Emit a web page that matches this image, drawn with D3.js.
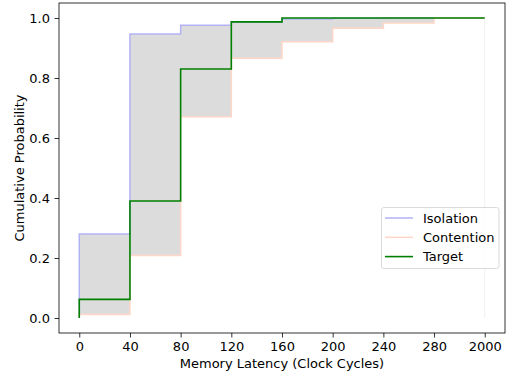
<!DOCTYPE html>
<html>
<head>
<meta charset="utf-8" />
<title>Memory latency CDF</title>
<script src="https://d3js.org/d3.v7.min.js"></script>
<style>
    body { margin: 0; font-family: "DejaVu Sans", sans-serif; }
    .tick text { font-size: 13px; font-family: "DejaVu Sans", sans-serif; fill: #000; }
</style>
</head>
<body>
<svg id="chart" width="507" height="374"></svg>
<script>

// latency buckets (equally spaced on the axis)
var latencyLabels = ["0", "40", "80", "120", "160", "200", "240", "280", "2000"];

// cumulative probability per bucket
var isolation  = [0, 0.28, 0.947, 0.976, 0.986, 0.997, 0.999, 1.0, 1.0];
var contention = [0, 0.012, 0.208, 0.671, 0.866, 0.921, 0.966, 0.983, 1.0];
var target     = [0, 0.062, 0.39, 0.83, 0.987, 1.0, 1.0, 1.0, 1.0];

var yTicks = [0, 0.2, 0.4, 0.6, 0.8, 1.0];

var margin = {top: 3, right: 2, bottom: 41, left: 59},
    width = 507 - margin.left - margin.right,
    height = 374 - margin.top - margin.bottom;

var svg = d3.select("#chart");
var chart = svg.append("g")
    .attr("transform", "translate(" + margin.left + "," + margin.top + ")");

// matplotlib style 5% padding
var n = latencyLabels.length;
var x = d3.scaleLinear()
    .domain([-0.05 * (n - 1), (n - 1) * 1.05])
    .range([0, width]);
var y = d3.scaleLinear()
    .domain([-0.05, 1.05])
    .range([height, 0]);

var idx = d3.range(n);

// grey band between isolation and contention
var area = d3.area()
    .x(function(i){ return x(i); })
    .y0(function(i){ return y(contention[i]); })
    .y1(function(i){ return y(isolation[i]); })
    .curve(d3.curveStepBefore);

chart.append("path")
    .datum(idx)
    .attr("d", area)
    .attr("fill", "#dcdcdc");

// faint edge at the last bucket
chart.append("line")
    .attr("x1", x(n - 1)).attr("x2", x(n - 1))
    .attr("y1", y(1)).attr("y2", y(0))
    .attr("stroke", "#f0f0f0")
    .attr("stroke-width", 1);

var line = function(vals){
    return d3.line()
        .x(function(i){ return x(i); })
        .y(function(i){ return y(vals[i]); })
        .curve(d3.curveStepBefore)(idx);
};

var series = [
    {name: "Isolation", vals: isolation, color: "rgb(178,178,245)", w: 1.5},
    {name: "Contention", vals: contention, color: "rgb(255,214,200)", w: 1.5},
    {name: "Target", vals: target, color: "green", w: 1.6}
];

series.forEach(function(s){
    chart.append("path")
        .attr("d", line(s.vals))
        .attr("fill", "none")
        .attr("stroke", s.color)
        .attr("stroke-width", s.w);
});

// axes
var xAxis = d3.axisBottom(x)
    .tickValues(idx)
    .tickFormat(function(i){ return latencyLabels[i]; })
    .tickSizeOuter(0)
    .tickSize(4.5)
    .tickPadding(4);

var yAxis = d3.axisLeft(y)
    .tickValues(yTicks)
    .tickFormat(d3.format(".1f"))
    .tickSizeOuter(0)
    .tickSize(4.5)
    .tickPadding(4.5);

var gx = chart.append("g")
    .attr("transform", "translate(0," + height + ")")
    .call(xAxis);
var gy = chart.append("g").call(yAxis);

[gx, gy].forEach(function(g){
    g.select(".domain").remove();
    g.selectAll(".tick line").attr("stroke", "#000").attr("stroke-width", 0.8);
});

// frame
chart.append("rect")
    .attr("width", width).attr("height", height)
    .attr("fill", "none")
    .attr("stroke", "#000")
    .attr("stroke-width", 0.8);

// axis titles
chart.append("text")
    .attr("x", width / 2).attr("y", height + 35)
    .attr("text-anchor", "middle")
    .style("font-size", "13px")
    .text("Memory Latency (Clock Cycles)");

chart.append("text")
    .attr("transform", "translate(-35," + (height / 2) + ") rotate(-90)")
    .attr("text-anchor", "middle")
    .style("font-size", "13px")
    .text("Cumulative Probability");

// legend
var legend = chart.append("g")
    .attr("transform", "translate(" + (width - 123.5) + "," + (height - 125.5) + ")");

legend.append("rect")
    .attr("width", 117.5).attr("height", 61)
    .attr("rx", 2.5)
    .attr("fill", "#fff").attr("fill-opacity", 0.8)
    .attr("stroke", "#d0d0d0").attr("stroke-width", 0.8);

series.forEach(function(s, i){
    var row = legend.append("g").attr("transform", "translate(0," + (10.5 + i * 19.3) + ")");
    row.append("line")
        .attr("x1", 3.5).attr("x2", 31.5)
        .attr("stroke", s.color).attr("stroke-width", s.w);
    row.append("text")
        .attr("x", 41.5).attr("y", 4.7)
        .style("font-size", "13px")
        .text(s.name);
});

</script>
</body>
</html>
